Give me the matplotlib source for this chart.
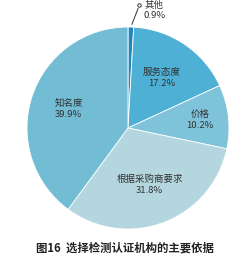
import numpy as np
import matplotlib.pyplot as plt

plt.rcParams['font.family'] = ['Noto Sans CJK SC', 'DejaVu Sans']

names = ['其他', '服务态度', '价格', '根据采购商要求', '知名度']
shares = [0.9, 17.2, 10.2, 31.8, 39.9]
colors = ['#1f86bf', '#4fb0d6', '#7ec3da', '#b4d6df', '#72bcd4']
label_r = [None, 0.60, 0.72, 0.60, 0.62]
title = '图16  选择检测认证机构的主要依据'

W, H = 249, 262
fig = plt.figure(figsize=(W / 100, H / 100), dpi=100)
# pie centre ~ (128,128) px from top, radius ~101 px
cx, cy, R = 128, 128, 101
ax = fig.add_axes([(cx - R) / W, (H - cy - R) / H, 2 * R / W, 2 * R / H])

wedges, _ = ax.pie(shares, colors=colors, startangle=90, counterclock=False,
                   wedgeprops=dict(edgecolor='white', linewidth=0.6))
ax.set_xlim(-1, 1)
ax.set_ylim(-1, 1)
ax.set_aspect('equal')
ax.axis('off')

fs = 6.8
for w, name, val, r in zip(wedges, names, shares, label_r):
    mid = np.deg2rad((w.theta1 + w.theta2) / 2)
    if r is None:
        # small slice: leader line to outside label
        x0, y0 = np.cos(mid), np.sin(mid)
        ax.annotate('', xy=(x0, y0), xytext=(0.11, 1.21),
                    arrowprops=dict(arrowstyle='-', color='#333333', lw=0.7),
                    annotation_clip=False)
        ax.plot([0.11], [1.215], marker='o', ms=2.5, mfc='white', mec='#333333',
                mew=0.7, clip_on=False)
        ax.text(0.16, 1.215, name, fontsize=fs, ha='left', va='center', color='#333333')
        ax.text(0.15, 1.115, f'{val}%', fontsize=fs, ha='left', va='center', color='#333333')
        continue
    x, y = r * np.cos(mid), r * np.sin(mid)
    ax.text(x, y + 0.055, name, fontsize=fs, ha='center', va='center', color='#333333')
    ax.text(x, y - 0.055, f'{val}%', fontsize=fs, ha='center', va='center', color='#333333')

fig.text(125 / W, 1 - 248 / H, title, fontsize=8.2, fontweight='bold',
         ha='center', va='center', color='#222222')

fig.savefig('out.png', dpi=100)
